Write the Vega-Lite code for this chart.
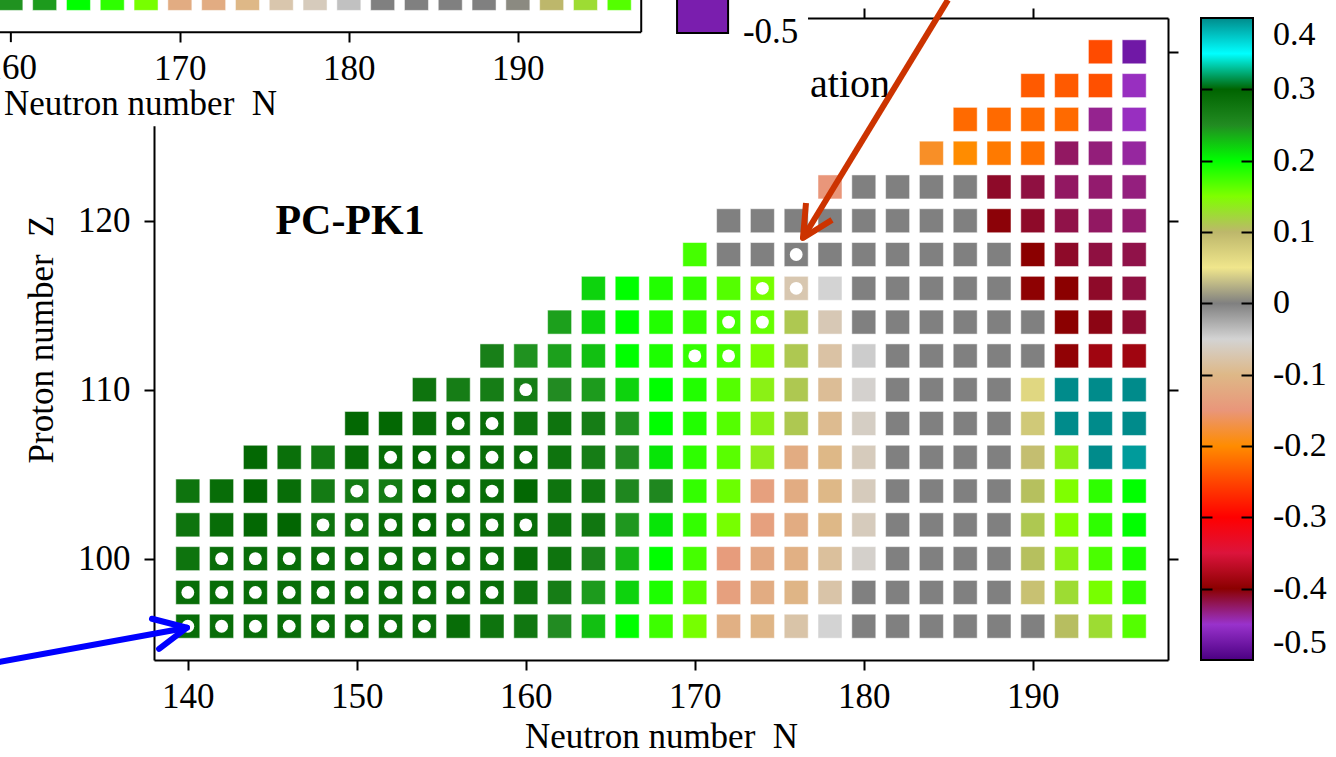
{
  "$schema": "https://vega.github.io/schema/vega-lite/v6.json",
  "width": 1014,
  "height": 642,
  "autosize": {"type": "none"},
  "padding": {"left": 154, "top": 18, "right": 168, "bottom": 97},
  "background": "white",
  "config": {
    "view": {"stroke": null},
    "font": "Liberation Serif",
    "axis": {"domainColor": "black", "domainWidth": 2, "tickColor": "black", "tickWidth": 2, "tickSize": 10, "grid": false, "labelFont": "Liberation Serif", "labelFontSize": 35, "labelColor": "black", "titleFont": "Liberation Serif", "titleFontSize": 35, "titleFontWeight": "normal", "titleColor": "black", "labelOverlap": false, "labelFlush": false}
  },
  "datasets": {
    "cells": [
      {"N":140,"Z":96,"v":0.288,"c":1},{"N":142,"Z":96,"v":0.288,"c":1},{"N":144,"Z":96,"v":0.288,"c":1},{"N":146,"Z":96,"v":0.288,"c":1},{"N":148,"Z":96,"v":0.288,"c":1},{"N":150,"Z":96,"v":0.288,"c":1},{"N":152,"Z":96,"v":0.288,"c":1},{"N":154,"Z":96,"v":0.288,"c":1},{"N":156,"Z":96,"v":0.288},{"N":158,"Z":96,"v":0.28},{"N":160,"Z":96,"v":0.275},{"N":162,"Z":96,"v":0.25},{"N":164,"Z":96,"v":0.227},{"N":166,"Z":96,"v":0.2},{"N":168,"Z":96,"v":0.176},{"N":170,"Z":96,"v":0.153},{"N":172,"Z":96,"v":-0.112},{"N":174,"Z":96,"v":-0.105},{"N":176,"Z":96,"v":-0.078},{"N":178,"Z":96,"v":-0.05},{"N":180,"Z":96,"v":0},{"N":182,"Z":96,"v":0},{"N":184,"Z":96,"v":0},{"N":186,"Z":96,"v":0},{"N":188,"Z":96,"v":0},{"N":190,"Z":96,"v":0},{"N":192,"Z":96,"v":0.105},{"N":194,"Z":96,"v":0.126},{"N":196,"Z":96,"v":0.167},
      {"N":140,"Z":98,"v":0.288,"c":1},{"N":142,"Z":98,"v":0.288,"c":1},{"N":144,"Z":98,"v":0.288,"c":1},{"N":146,"Z":98,"v":0.288,"c":1},{"N":148,"Z":98,"v":0.288,"c":1},{"N":150,"Z":98,"v":0.288,"c":1},{"N":152,"Z":98,"v":0.288,"c":1},{"N":154,"Z":98,"v":0.288,"c":1},{"N":156,"Z":98,"v":0.288,"c":1},{"N":158,"Z":98,"v":0.288,"c":1},{"N":160,"Z":98,"v":0.28},{"N":162,"Z":98,"v":0.268},{"N":164,"Z":98,"v":0.243},{"N":166,"Z":98,"v":0.219},{"N":168,"Z":98,"v":0.189},{"N":170,"Z":98,"v":0.165},{"N":172,"Z":98,"v":-0.135},{"N":174,"Z":98,"v":-0.118},{"N":176,"Z":98,"v":-0.105},{"N":178,"Z":98,"v":-0.078},{"N":180,"Z":98,"v":0},{"N":182,"Z":98,"v":0},{"N":184,"Z":98,"v":0},{"N":186,"Z":98,"v":0},{"N":188,"Z":98,"v":0},{"N":190,"Z":98,"v":0.089},{"N":192,"Z":98,"v":0.126},{"N":194,"Z":98,"v":0.153},{"N":196,"Z":98,"v":0.18},
      {"N":140,"Z":100,"v":0.28},{"N":142,"Z":100,"v":0.288,"c":1},{"N":144,"Z":100,"v":0.288,"c":1},{"N":146,"Z":100,"v":0.288,"c":1},{"N":148,"Z":100,"v":0.288,"c":1},{"N":150,"Z":100,"v":0.288,"c":1},{"N":152,"Z":100,"v":0.288,"c":1},{"N":154,"Z":100,"v":0.288,"c":1},{"N":156,"Z":100,"v":0.288,"c":1},{"N":158,"Z":100,"v":0.288,"c":1},{"N":160,"Z":100,"v":0.288},{"N":162,"Z":100,"v":0.28},{"N":164,"Z":100,"v":0.261},{"N":166,"Z":100,"v":0.232},{"N":168,"Z":100,"v":0.2},{"N":170,"Z":100,"v":0.173},{"N":172,"Z":100,"v":-0.141},{"N":174,"Z":100,"v":-0.124},{"N":176,"Z":100,"v":-0.112},{"N":178,"Z":100,"v":-0.086},{"N":180,"Z":100,"v":-0.055},{"N":182,"Z":100,"v":0},{"N":184,"Z":100,"v":0},{"N":186,"Z":100,"v":0},{"N":188,"Z":100,"v":0},{"N":190,"Z":100,"v":0.106},{"N":192,"Z":100,"v":0.14},{"N":194,"Z":100,"v":0.171},{"N":196,"Z":100,"v":0.189},
      {"N":140,"Z":102,"v":0.28},{"N":142,"Z":102,"v":0.288},{"N":144,"Z":102,"v":0.295},{"N":146,"Z":102,"v":0.297},{"N":148,"Z":102,"v":0.28,"c":1},{"N":150,"Z":102,"v":0.28,"c":1},{"N":152,"Z":102,"v":0.288,"c":1},{"N":154,"Z":102,"v":0.295,"c":1},{"N":156,"Z":102,"v":0.288,"c":1},{"N":158,"Z":102,"v":0.288,"c":1},{"N":160,"Z":102,"v":0.288,"c":1},{"N":162,"Z":102,"v":0.28},{"N":164,"Z":102,"v":0.275},{"N":166,"Z":102,"v":0.245},{"N":168,"Z":102,"v":0.211},{"N":170,"Z":102,"v":0.18},{"N":172,"Z":102,"v":0.153},{"N":174,"Z":102,"v":-0.135},{"N":176,"Z":102,"v":-0.118},{"N":178,"Z":102,"v":-0.1},{"N":180,"Z":102,"v":-0.065},{"N":182,"Z":102,"v":0},{"N":184,"Z":102,"v":0},{"N":186,"Z":102,"v":0},{"N":188,"Z":102,"v":0},{"N":190,"Z":102,"v":0.112},{"N":192,"Z":102,"v":0.15},{"N":194,"Z":102,"v":0.182},{"N":196,"Z":102,"v":0.2},
      {"N":140,"Z":104,"v":0.28},{"N":142,"Z":104,"v":0.288},{"N":144,"Z":104,"v":0.297},{"N":146,"Z":104,"v":0.288},{"N":148,"Z":104,"v":0.27},{"N":150,"Z":104,"v":0.27,"c":1},{"N":152,"Z":104,"v":0.27,"c":1},{"N":154,"Z":104,"v":0.295,"c":1},{"N":156,"Z":104,"v":0.288,"c":1},{"N":158,"Z":104,"v":0.288,"c":1},{"N":160,"Z":104,"v":0.295},{"N":162,"Z":104,"v":0.28},{"N":164,"Z":104,"v":0.275},{"N":166,"Z":104,"v":0.255},{"N":168,"Z":104,"v":0.255},{"N":170,"Z":104,"v":0.18},{"N":172,"Z":104,"v":0.158},{"N":174,"Z":104,"v":-0.135},{"N":176,"Z":104,"v":-0.118},{"N":178,"Z":104,"v":-0.1},{"N":180,"Z":104,"v":-0.065},{"N":182,"Z":104,"v":0},{"N":184,"Z":104,"v":0},{"N":186,"Z":104,"v":0},{"N":188,"Z":104,"v":0},{"N":190,"Z":104,"v":0.106},{"N":192,"Z":104,"v":0.15},{"N":194,"Z":104,"v":0.182},{"N":196,"Z":104,"v":0.2},
      {"N":144,"Z":106,"v":0.295},{"N":146,"Z":106,"v":0.285},{"N":148,"Z":106,"v":0.272},{"N":150,"Z":106,"v":0.29},{"N":152,"Z":106,"v":0.29,"c":1},{"N":154,"Z":106,"v":0.295,"c":1},{"N":156,"Z":106,"v":0.288,"c":1},{"N":158,"Z":106,"v":0.288,"c":1},{"N":160,"Z":106,"v":0.288,"c":1},{"N":162,"Z":106,"v":0.28},{"N":164,"Z":106,"v":0.268},{"N":166,"Z":106,"v":0.25},{"N":168,"Z":106,"v":0.211},{"N":170,"Z":106,"v":0.182},{"N":172,"Z":106,"v":0.165},{"N":174,"Z":106,"v":0.138},{"N":176,"Z":106,"v":-0.118},{"N":178,"Z":106,"v":-0.1},{"N":180,"Z":106,"v":-0.065},{"N":182,"Z":106,"v":0},{"N":184,"Z":106,"v":0},{"N":186,"Z":106,"v":0},{"N":188,"Z":106,"v":0},{"N":190,"Z":106,"v":0.093},{"N":192,"Z":106,"v":0.14},{"N":194,"Z":106,"v":0.4},{"N":196,"Z":106,"v":0.393},
      {"N":150,"Z":108,"v":0.295},{"N":152,"Z":108,"v":0.295},{"N":154,"Z":108,"v":0.288},{"N":156,"Z":108,"v":0.288,"c":1},{"N":158,"Z":108,"v":0.288,"c":1},{"N":160,"Z":108,"v":0.28},{"N":162,"Z":108,"v":0.28},{"N":164,"Z":108,"v":0.268},{"N":166,"Z":108,"v":0.247},{"N":168,"Z":108,"v":0.2},{"N":170,"Z":108,"v":0.187},{"N":172,"Z":108,"v":0.167},{"N":174,"Z":108,"v":0.14},{"N":176,"Z":108,"v":0.112},{"N":178,"Z":108,"v":-0.094},{"N":180,"Z":108,"v":-0.06},{"N":182,"Z":108,"v":0},{"N":184,"Z":108,"v":0},{"N":186,"Z":108,"v":0},{"N":188,"Z":108,"v":0},{"N":190,"Z":108,"v":0.081},{"N":192,"Z":108,"v":0.4},{"N":194,"Z":108,"v":0.4},{"N":196,"Z":108,"v":0.4},
      {"N":154,"Z":110,"v":0.28},{"N":156,"Z":110,"v":0.268},{"N":158,"Z":110,"v":0.268},{"N":160,"Z":110,"v":0.268,"c":1},{"N":162,"Z":110,"v":0.25},{"N":164,"Z":110,"v":0.243},{"N":166,"Z":110,"v":0.219},{"N":168,"Z":110,"v":0.2},{"N":170,"Z":110,"v":0.187},{"N":172,"Z":110,"v":0.167},{"N":174,"Z":110,"v":0.14},{"N":176,"Z":110,"v":0.112},{"N":178,"Z":110,"v":-0.09},{"N":180,"Z":110,"v":-0.053},{"N":182,"Z":110,"v":0},{"N":184,"Z":110,"v":0},{"N":186,"Z":110,"v":0},{"N":188,"Z":110,"v":0},{"N":190,"Z":110,"v":0.066},{"N":192,"Z":110,"v":0.4},{"N":194,"Z":110,"v":0.4},{"N":196,"Z":110,"v":0.4},
      {"N":158,"Z":112,"v":0.265},{"N":160,"Z":112,"v":0.247},{"N":162,"Z":112,"v":0.241},{"N":164,"Z":112,"v":0.227},{"N":166,"Z":112,"v":0.2},{"N":168,"Z":112,"v":0.189},{"N":170,"Z":112,"v":0.18,"c":1},{"N":172,"Z":112,"v":0.173,"c":1},{"N":174,"Z":112,"v":0.152},{"N":176,"Z":112,"v":0.112},{"N":178,"Z":112,"v":-0.081},{"N":180,"Z":112,"v":-0.046},{"N":182,"Z":112,"v":0},{"N":184,"Z":112,"v":0},{"N":186,"Z":112,"v":0},{"N":188,"Z":112,"v":0},{"N":190,"Z":112,"v":0},{"N":192,"Z":112,"v":-0.396},{"N":194,"Z":112,"v":-0.387},{"N":196,"Z":112,"v":-0.387},
      {"N":162,"Z":114,"v":0.241},{"N":164,"Z":114,"v":0.219},{"N":166,"Z":114,"v":0.2},{"N":168,"Z":114,"v":0.187},{"N":170,"Z":114,"v":0.18},{"N":172,"Z":114,"v":0.173,"c":1},{"N":174,"Z":114,"v":0.16,"c":1},{"N":176,"Z":114,"v":0.112},{"N":178,"Z":114,"v":-0.07},{"N":180,"Z":114,"v":0},{"N":182,"Z":114,"v":0},{"N":184,"Z":114,"v":0},{"N":186,"Z":114,"v":0},{"N":188,"Z":114,"v":0},{"N":190,"Z":114,"v":0},{"N":192,"Z":114,"v":-0.4},{"N":194,"Z":114,"v":-0.405},{"N":196,"Z":114,"v":-0.412},
      {"N":164,"Z":116,"v":0.219},{"N":166,"Z":116,"v":0.2},{"N":168,"Z":116,"v":0.187},{"N":170,"Z":116,"v":0.18},{"N":172,"Z":116,"v":0.167},{"N":174,"Z":116,"v":0.153,"c":1},{"N":176,"Z":116,"v":-0.073,"c":1},{"N":178,"Z":116,"v":-0.05},{"N":180,"Z":116,"v":0},{"N":182,"Z":116,"v":0},{"N":184,"Z":116,"v":0},{"N":186,"Z":116,"v":0},{"N":188,"Z":116,"v":0},{"N":190,"Z":116,"v":-0.398},{"N":192,"Z":116,"v":-0.4},{"N":194,"Z":116,"v":-0.41},{"N":196,"Z":116,"v":-0.416},
      {"N":170,"Z":118,"v":0.173},{"N":172,"Z":118,"v":0},{"N":174,"Z":118,"v":0},{"N":176,"Z":118,"v":0,"c":1},{"N":178,"Z":118,"v":0},{"N":180,"Z":118,"v":0},{"N":182,"Z":118,"v":0},{"N":184,"Z":118,"v":0},{"N":186,"Z":118,"v":0},{"N":188,"Z":118,"v":0},{"N":190,"Z":118,"v":-0.4},{"N":192,"Z":118,"v":-0.41},{"N":194,"Z":118,"v":-0.416},{"N":196,"Z":118,"v":-0.418},
      {"N":172,"Z":120,"v":0},{"N":174,"Z":120,"v":0},{"N":176,"Z":120,"v":0},{"N":178,"Z":120,"v":0},{"N":180,"Z":120,"v":0},{"N":182,"Z":120,"v":0},{"N":184,"Z":120,"v":0},{"N":186,"Z":120,"v":0},{"N":188,"Z":120,"v":-0.402},{"N":190,"Z":120,"v":-0.41},{"N":192,"Z":120,"v":-0.418},{"N":194,"Z":120,"v":-0.424},{"N":196,"Z":120,"v":-0.427},
      {"N":178,"Z":122,"v":-0.15},{"N":180,"Z":122,"v":0},{"N":182,"Z":122,"v":0},{"N":184,"Z":122,"v":0},{"N":186,"Z":122,"v":0},{"N":188,"Z":122,"v":-0.41},{"N":190,"Z":122,"v":-0.416},{"N":192,"Z":122,"v":-0.424},{"N":194,"Z":122,"v":-0.427},{"N":196,"Z":122,"v":-0.431},
      {"N":184,"Z":124,"v":-0.184},{"N":186,"Z":124,"v":-0.2},{"N":188,"Z":124,"v":-0.213},{"N":190,"Z":124,"v":-0.22},{"N":192,"Z":124,"v":-0.424},{"N":194,"Z":124,"v":-0.43},{"N":196,"Z":124,"v":-0.439},
      {"N":186,"Z":126,"v":-0.224},{"N":188,"Z":126,"v":-0.224},{"N":190,"Z":126,"v":-0.224},{"N":192,"Z":126,"v":-0.224},{"N":194,"Z":126,"v":-0.435},{"N":196,"Z":126,"v":-0.447},
      {"N":190,"Z":128,"v":-0.235},{"N":192,"Z":128,"v":-0.235},{"N":194,"Z":128,"v":-0.242},{"N":196,"Z":128,"v":-0.447},
      {"N":194,"Z":130,"v":-0.246},{"N":196,"Z":130,"v":-0.476}
    ],
    "inset": [
      {"N":160,"Z":96,"v":0.247},{"N":162,"Z":96,"v":0.243},{"N":164,"Z":96,"v":0.2},{"N":166,"Z":96,"v":0.182},{"N":168,"Z":96,"v":0.153},{"N":170,"Z":96,"v":-0.118},{"N":172,"Z":96,"v":-0.118},{"N":174,"Z":96,"v":-0.1},{"N":176,"Z":96,"v":-0.075},{"N":178,"Z":96,"v":-0.065},{"N":180,"Z":96,"v":-0.039},{"N":182,"Z":96,"v":0},{"N":184,"Z":96,"v":0},{"N":186,"Z":96,"v":0},{"N":188,"Z":96,"v":0},{"N":190,"Z":96,"v":0.005},{"N":192,"Z":96,"v":0.1},{"N":194,"Z":96,"v":0.126},{"N":196,"Z":96,"v":0.167}
    ],
    "arrows": [
      {"a":"blue","p":"shaft","o":0,"N":128.89,"Z":93.89},{"a":"blue","p":"shaft","o":1,"N":139.95,"Z":95.91},
      {"a":"blue","p":"head","o":0,"N":137.88,"Z":96.44},{"a":"blue","p":"head","o":1,"N":139.95,"Z":95.91},{"a":"blue","p":"head","o":2,"N":138.3,"Z":94.66},
      {"a":"red","p":"shaft","o":0,"N":184.98,"Z":133.07},{"a":"red","p":"shaft","o":1,"N":176.4,"Z":118.98},
      {"a":"red","p":"head","o":0,"N":176.58,"Z":121.05},{"a":"red","p":"head","o":1,"N":176.4,"Z":118.98},{"a":"red","p":"head","o":2,"N":178.12,"Z":120.05}
    ]
  },
  "resolve": {"scale": {"x": "independent", "y": "independent"}},
  "layer": [
    {
      "resolve": {"axis": {"x": "independent", "y": "independent"}},
      "layer": [
        {
          "data": {"name": "cells"},
          "mark": {"type": "square", "size": 576, "opacity": 1, "stroke": "white", "strokeWidth": 1, "strokeOpacity": 0.5},
          "encoding": {
            "x": {"field": "N", "type": "quantitative", "scale": {"domain": [138, 198], "nice": false, "zero": false},
                  "axis": {"orient": "bottom", "values": [140, 150, 160, 170, 180, 190], "title": "Neutron number\u00a0 N", "labelPadding": 9, "titlePadding": 5}},
            "y": {"field": "Z", "type": "quantitative", "scale": {"domain": [94, 132], "nice": false, "zero": false},
                  "axis": {"orient": "left", "values": [100, 110, 120, 130], "title": "Proton number\u00a0 Z", "labelPadding": 14, "titlePadding": 18}},
            "color": {"field": "v", "type": "quantitative",
              "scale": {"domain": [-0.5, -0.45, -0.4, -0.35, -0.3, -0.25, -0.2, -0.15, -0.1, -0.05, 0, 0.05, 0.1, 0.15, 0.2, 0.25, 0.3, 0.35, 0.4],
                        "range": ["#4B0082", "#9932CC", "#8B0000", "#DC143C", "#FF0000", "#FF4500", "#FF8C00", "#E9967A", "#DEB887", "#D3D3D3", "#808080", "#F0E68C", "#BDB76B", "#7FFF00", "#00FF00", "#228B22", "#006400", "#00FFFF", "#008B8B"],
                        "interpolate": "rgb", "clamp": true},
              "legend": {"title": null, "orient": "none", "legendX": 1047, "legendY": 0, "padding": 0, "direction": "vertical", "gradientLength": 642, "gradientThickness": 52, "gradientStrokeColor": "black", "gradientStrokeWidth": 2,
                         "values": [-0.5, -0.4, -0.3, -0.2, -0.1, 0, 0.1, 0.2, 0.3, 0.4],
                         "labelExpr": "datum.value == 0 ? '0' : (datum.value < 0 ? '-' : '') + format(abs(datum.value), '.1f')",
                         "labelFont": "Liberation Serif", "labelFontSize": 34, "labelColor": "black", "labelOffset": 20, "labelBaseline": "middle", "labelOverlap": false}}
          }
        },
        {
          "data": {"name": "cells"},
          "transform": [{"filter": "datum.c == 1"}],
          "mark": {"type": "circle", "size": 165, "color": "white", "opacity": 1},
          "encoding": {
            "x": {"field": "N", "type": "quantitative", "scale": {"domain": [138, 198], "nice": false, "zero": false},
                  "axis": {"orient": "top", "values": [140, 150, 160, 170, 180, 190], "labels": false, "title": null}},
            "y": {"field": "Z", "type": "quantitative", "scale": {"domain": [94, 132], "nice": false, "zero": false},
                  "axis": {"orient": "right", "values": [100, 110, 120, 130], "labels": false, "title": null}}
          }
        },
        {
          "data": {"values": [{"N1": 120, "N2": 176.7, "Z1": 125.6, "Z2": 136}]},
          "mark": {"type": "rect", "color": "white"},
          "encoding": {
            "x": {"field": "N1", "type": "quantitative", "scale": {"domain": [138, 198], "nice": false, "zero": false}, "axis": null},
            "x2": {"field": "N2"},
            "y": {"field": "Z1", "type": "quantitative", "scale": {"domain": [94, 132], "nice": false, "zero": false}, "axis": null},
            "y2": {"field": "Z2"}
          }
        },
        {
          "data": {"values": [{"N": 149.6, "Z": 120, "t": "PC-PK1"}]},
          "mark": {"type": "text", "font": "Liberation Serif", "fontSize": 42, "fontWeight": "bold", "align": "center", "baseline": "middle", "color": "black"},
          "encoding": {
            "x": {"field": "N", "type": "quantitative", "scale": {"domain": [138, 198], "nice": false, "zero": false}, "axis": null},
            "y": {"field": "Z", "type": "quantitative", "scale": {"domain": [94, 132], "nice": false, "zero": false}, "axis": null},
            "text": {"field": "t"}
          }
        },
        {
          "data": {"values": [{"N": 176.82, "Z": 128.04, "t": "ation"}]},
          "mark": {"type": "text", "font": "Liberation Serif", "fontSize": 40, "align": "left", "baseline": "middle", "color": "black"},
          "encoding": {
            "x": {"field": "N", "type": "quantitative", "scale": {"domain": [138, 198], "nice": false, "zero": false}, "axis": null},
            "y": {"field": "Z", "type": "quantitative", "scale": {"domain": [94, 132], "nice": false, "zero": false}, "axis": null},
            "text": {"field": "t"}
          }
        },
        {
          "data": {"name": "arrows"},
          "transform": [{"filter": "datum.a == 'blue'"}],
          "mark": {"type": "line", "color": "#0000FF", "strokeWidth": 6, "strokeCap": "round", "strokeJoin": "round"},
          "encoding": {
            "x": {"field": "N", "type": "quantitative", "scale": {"domain": [138, 198], "nice": false, "zero": false}, "axis": null},
            "y": {"field": "Z", "type": "quantitative", "scale": {"domain": [94, 132], "nice": false, "zero": false}, "axis": null},
            "detail": {"field": "p"},
            "order": {"field": "o"}
          }
        },
        {
          "data": {"name": "arrows"},
          "transform": [{"filter": "datum.a == 'red'"}],
          "mark": {"type": "line", "color": "#CC3300", "strokeWidth": 6, "strokeCap": "butt", "strokeJoin": "round"},
          "encoding": {
            "x": {"field": "N", "type": "quantitative", "scale": {"domain": [138, 198], "nice": false, "zero": false}, "axis": null},
            "y": {"field": "Z", "type": "quantitative", "scale": {"domain": [94, 132], "nice": false, "zero": false}, "axis": null},
            "detail": {"field": "p"},
            "order": {"field": "o"}
          }
        }
      ]
    },
    {
      "resolve": {"axis": {"x": "independent", "y": "independent"}},
      "layer": [
        {
          "data": {"name": "inset"},
          "mark": {"type": "square", "size": 576, "opacity": 1, "stroke": "white", "strokeWidth": 1, "strokeOpacity": 0.5},
          "encoding": {
            "x": {"field": "N", "type": "quantitative", "scale": {"domain": [168.47, 228.47], "nice": false, "zero": false},
                  "axis": {"orient": "bottom", "offset": -628, "zindex": 2, "domain": false, "values": [160, 170, 180, 190], "title": "Neutron number\u00a0 N", "titleX": -14, "labelPadding": 9, "titlePadding": 0}},
            "y": {"field": "Z", "type": "quantitative", "scale": {"domain": [56.84, 94.84], "nice": false, "zero": false}, "axis": null},
            "color": {"field": "v", "type": "quantitative"}
          }
        },
        {
          "data": {"values": [{"N1": 150, "N2": 197.3, "Z": 94}]},
          "mark": {"type": "rule", "color": "black", "strokeWidth": 2},
          "encoding": {
            "x": {"field": "N1", "type": "quantitative", "scale": {"domain": [168.47, 228.47], "nice": false, "zero": false}, "axis": null},
            "x2": {"field": "N2"},
            "y": {"field": "Z", "type": "quantitative", "scale": {"domain": [56.84, 94.84], "nice": false, "zero": false}, "axis": null}
          }
        },
        {
          "data": {"values": [{"N": 197.3, "Z1": 94, "Z2": 100}, {"N": 160, "Z1": 94, "Z2": 93.41}]},
          "mark": {"type": "rule", "color": "black", "strokeWidth": 2},
          "encoding": {
            "x": {"field": "N", "type": "quantitative", "scale": {"domain": [168.47, 228.47], "nice": false, "zero": false}, "axis": null},
            "y": {"field": "Z1", "type": "quantitative", "scale": {"domain": [56.84, 94.84], "nice": false, "zero": false}, "axis": null},
            "y2": {"field": "Z2"}
          }
        },
        {
          "data": {"values": [{"N": 160, "Z": 92.88, "t": "160"}]},
          "mark": {"type": "text", "font": "Liberation Serif", "fontSize": 35, "align": "center", "baseline": "top", "color": "black"},
          "encoding": {
            "x": {"field": "N", "type": "quantitative", "scale": {"domain": [168.47, 228.47], "nice": false, "zero": false}, "axis": null},
            "y": {"field": "Z", "type": "quantitative", "scale": {"domain": [56.84, 94.84], "nice": false, "zero": false}, "axis": null},
            "text": {"field": "t"}
          }
        },
        {
          "data": {"values": [{"N1": 199.42, "N2": 202.44, "Z1": 93.95, "Z2": 100, "v": -0.47}]},
          "mark": {"type": "rect", "stroke": "black", "strokeWidth": 2},
          "encoding": {
            "x": {"field": "N1", "type": "quantitative", "scale": {"domain": [168.47, 228.47], "nice": false, "zero": false}, "axis": null},
            "x2": {"field": "N2"},
            "y": {"field": "Z1", "type": "quantitative", "scale": {"domain": [56.84, 94.84], "nice": false, "zero": false}, "axis": null},
            "y2": {"field": "Z2"},
            "color": {"field": "v", "type": "quantitative"}
          }
        },
        {
          "data": {"values": [{"N": 203.32, "Z": 94, "t": "-0.5"}]},
          "mark": {"type": "text", "font": "Liberation Serif", "fontSize": 35, "align": "left", "baseline": "middle", "color": "black"},
          "encoding": {
            "x": {"field": "N", "type": "quantitative", "scale": {"domain": [168.47, 228.47], "nice": false, "zero": false}, "axis": null},
            "y": {"field": "Z", "type": "quantitative", "scale": {"domain": [56.84, 94.84], "nice": false, "zero": false}, "axis": null},
            "text": {"field": "t"}
          }
        }
      ]
    },
    {
      "resolve": {"axis": {"y": "independent"}},
      "layer": [
        {
          "data": {"values": [{"v": -0.5}, {"v": 0.4}]},
          "mark": {"type": "point", "opacity": 0},
          "encoding": {
            "y": {"field": "v", "type": "quantitative", "scale": {"domain": [-0.5, 0.4], "nice": false, "zero": false},
                  "axis": {"orient": "right", "offset": 33, "zindex": 3, "domain": false, "labels": false, "title": null, "tickSize": 11, "values": [-0.4, -0.3, -0.2, -0.1, 0, 0.1, 0.2, 0.3]}}
          }
        },
        {
          "data": {"values": [{"v": -0.5}, {"v": 0.4}]},
          "mark": {"type": "point", "opacity": 0},
          "encoding": {
            "y": {"field": "v", "type": "quantitative", "scale": {"domain": [-0.5, 0.4], "nice": false, "zero": false},
                  "axis": {"orient": "left", "offset": -1098, "zindex": 3, "domain": false, "labels": false, "title": null, "tickSize": 11, "values": [-0.4, -0.3, -0.2, -0.1, 0, 0.1, 0.2, 0.3]}}
          }
        }
      ]
    }
  ]
}
